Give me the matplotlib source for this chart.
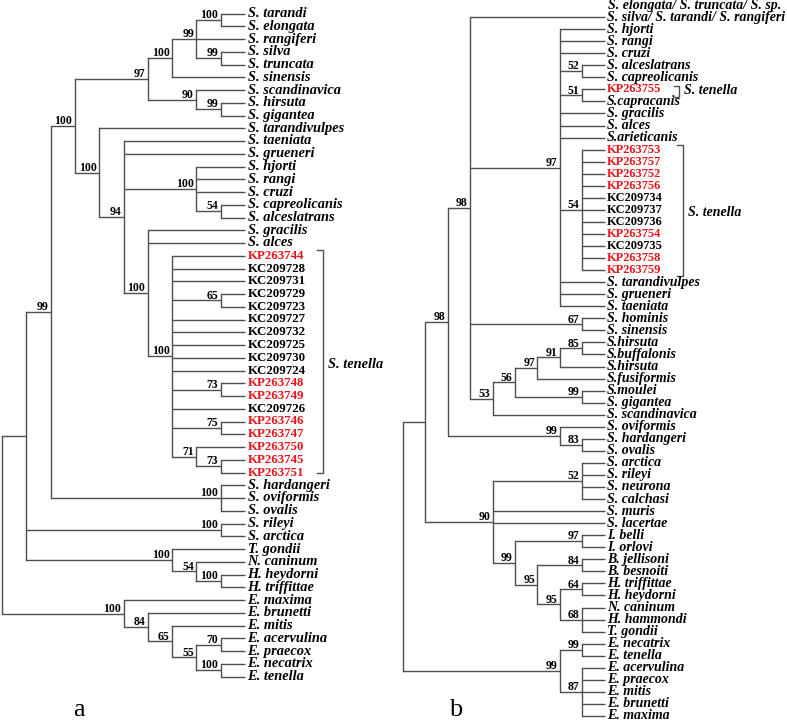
import matplotlib
matplotlib.use("Agg")
import matplotlib.pyplot as plt

# ---------------- data ----------------
# Newick topologies; internal node label = "support@depth-level"
tree_a = ("((((((((S. tarandi,S. elongata)100@9,S. rangiferi,(S. silva,S. truncata)99@9)99@8,"
          "S. sinensis)100@7,(S. scandinavica,(S. hirsuta,S. gigantea)99@9)90@8)97@6,"
          "(S. tarandivulpes,(S. taeniata,S. grueneri,(S. hjorti,S. rangi,S. cruzi,"
          "(S. capreolicanis,S. alceslatrans)54@9)100@8,(S. gracilis,S. alces,"
          "(KP263744,KC209728,KC209731,(KC209729,KC209723)65@9,KC209727,KC209732,KC209725,"
          "KC209730,KC209724,(KP263748,KP263749)73@9,KC209726,(KP263746,KP263747)75@9,"
          "(KP263750,(KP263745,KP263751)73@9)71@8)100@7)100@6)94@5)100@4)100@3,"
          "(S. hardangeri,S. oviformis,S. ovalis)100@9)99@2,(S. rileyi,S. arctica)100@9,"
          "(T. gondii,(N. caninum,(H. heydorni,H. triffittae)100@9)54@8)100@7)@1,"
          "(E. maxima,(E. brunetti,(E. mitis,((E. acervulina,E. praecox)70@9,"
          "(E. necatrix,E. tenella)100@9)55@8)65@7)84@6)100@5)@0")
leaf_level_a = 10

tree_b = ("((((S. silva/ S. tarandi/ S. rangiferi,(S. hjorti,S. rangi,S. cruzi,"
          "(S. alceslatrans,S. capreolicanis)52@8,(KP263755,S.capracanis)51@8,S. gracilis,"
          "S. alces,S.arieticanis,(KP263753,KP263757,KP263752,KP263756,KC209734,KC209737,"
          "KC209736,KP263754,KC209735,KP263758,KP263759)54@8,S. tarandivulpes,S. grueneri,"
          "S. taeniata)97@7,(S. hominis,S. sinensis)67@8,(((((S.hirsuta,S.buffalonis)85@8,"
          "S.hirsuta)91@7,S.fusiformis)97@6,(S.moulei,S. gigantea)99@8)56@5,"
          "S. scandinavica)53@4)98@3,(S. oviformis,(S. hardangeri,S. ovalis)83@8)99@7)98@2,"
          "((S. arctica,S. rileyi,S. neurona,S. calchasi)52@8,S. muris,S. lacertae,"
          "((I. belli,I. orlovi)97@8,((B. jellisoni,B. besnoiti)84@8,((H. triffittae,"
          "H. heydorni)64@8,(N. caninum,H. hammondi,T. gondii)68@8)95@7)95@6)99@5)90@4)@1,"
          "((E. necatrix,E. tenella)99@8,(E. acervulina,E. praecox,E. mitis,E. brunetti,"
          "E. maxima)87@8)99@7)@0")
leaf_level_b = 9
header_b = ["S. elongata/ S. truncata/ S. sp."]

group_label = "S. tenella"
panel_letters = ["a", "b"]

# ---------------- style / layout ----------------
LINE = "#4f4f4f"
RED = "#e8141b"
SERIF = ["Liberation Serif", "DejaVu Serif"]
LW = 1.0


def parse(s):
    pos = 0

    def read_label():
        nonlocal pos
        st = pos
        while pos < len(s) and s[pos] not in ",()":
            pos += 1
        return s[st:pos]

    def node():
        nonlocal pos
        if s[pos] == "(":
            pos += 1
            kids = [node()]
            while s[pos] == ",":
                pos += 1
                kids.append(node())
            pos += 1  # ')'
            sup, lev = read_label().split("@")
            return {"kids": kids, "sup": sup, "lev": int(lev)}
        return {"name": read_label().strip()}

    return node()


def layout(t, x0, dx, leaf_level, y0, dy, start_slot=0):
    counter = [start_slot]

    def rec(n):
        if "name" in n:
            n["x"] = x0 + dx * leaf_level
            n["y"] = y0 + dy * counter[0]
            counter[0] += 1
        else:
            for k in n["kids"]:
                rec(k)
            n["x"] = x0 + dx * n["lev"]
            n["y"] = (n["kids"][0]["y"] + n["kids"][-1]["y"]) / 2
    rec(t)
    return t


def draw(ax, t, fs_sp, fs_acc, sup_fs):
    if "name" in t:
        name = t["name"]
        acc = name.startswith("KP") or name.startswith("KC")
        ax.text(t["x"] + 2.5, t["y"], name, fontsize=fs_acc if acc else fs_sp,
                family=SERIF, fontweight="bold",
                fontstyle="normal" if acc else "italic",
                color=RED if name.startswith("KP") else "black",
                ha="left", va="center")
        return
    ys = [k["y"] for k in t["kids"]]
    ax.plot([t["x"], t["x"]], [min(ys), max(ys)], color=LINE, lw=LW,
            solid_capstyle="projecting")
    for k in t["kids"]:
        ax.plot([t["x"], k["x"]], [k["y"], k["y"]], color=LINE, lw=LW,
                solid_capstyle="butt")
        draw(ax, k, fs_sp, fs_acc, sup_fs)
    if t["sup"]:
        ax.text(t["x"] - 2.5, t["y"] - 1.8, t["sup"], fontsize=sup_fs, family=SERIF,
                fontweight="bold", ha="right", va="baseline", color="black")


fig = plt.figure(figsize=(7.87, 7.22), dpi=100)
ax = fig.add_axes([0, 0, 1, 1])
ax.set_xlim(0, 787)
ax.set_ylim(722, 0)
ax.axis("off")

FS_A, FS_A_ACC = 10.4, 9.3
FS_B, FS_B_ACC = 10.0, 8.9

# panel a
ta = layout(parse(tree_a), 2.0, 24.3, leaf_level_a, 13.5, 12.75)
draw(ax, ta, FS_A, FS_A_ACC, 8.5)
# panel b
tb = layout(parse(tree_b), 403.0, 22.4, leaf_level_b, 5.0, 12.05, start_slot=1)
draw(ax, tb, FS_B, FS_B_ACC, 8.5)
for i, h in enumerate(header_b):
    ax.text(607.5, 5.0 + 12.05 * i, h, fontsize=FS_B, family=SERIF, fontweight="bold",
            fontstyle="italic", ha="left", va="center")


def bracket(x, y1, y2, tick):
    ax.plot([x - tick, x, x, x - tick], [y1, y1, y2, y2], color=LINE, lw=LW)


# group brackets
bracket(323, 250, 473, 6)
ax.text(328, 365, group_label, fontsize=FS_A, family=SERIF, fontweight="bold",
        fontstyle="italic", ha="left", va="center")
bracket(679, 85.5, 96.5, 5)
ax.text(684, 91, group_label, fontsize=FS_B, family=SERIF, fontweight="bold",
        fontstyle="italic", ha="left", va="center")
bracket(683, 145, 276, 6)
ax.text(688, 212, group_label, fontsize=FS_B, family=SERIF, fontweight="bold",
        fontstyle="italic", ha="left", va="center")

# panel letters
ax.text(79, 716, panel_letters[0], fontsize=19, family=SERIF, ha="center", va="baseline")
ax.text(456, 716, panel_letters[1], fontsize=19, family=SERIF, ha="center", va="baseline")

fig.savefig("out.png", dpi=100)
